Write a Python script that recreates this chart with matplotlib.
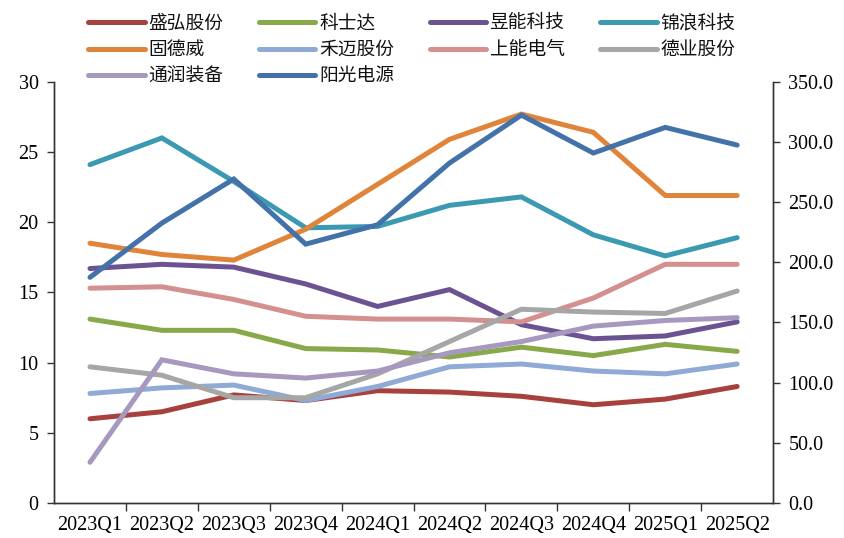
import numpy as np
import matplotlib
matplotlib.use("Agg")
import matplotlib.pyplot as plt

plt.rcParams['font.family'] = ['Liberation Serif', 'Noto Sans CJK SC', 'DejaVu Sans']

quarters = ['2023Q1', '2023Q2', '2023Q3', '2023Q4', '2024Q1',
            '2024Q2', '2024Q3', '2024Q4', '2025Q1', '2025Q2']

# left axis series
shenghong = [6.0, 6.5, 7.7, 7.3, 8.0, 7.9, 7.6, 7.0, 7.4, 8.3]
kestar = [13.1, 12.3, 12.3, 11.0, 10.9, 10.4, 11.1, 10.5, 11.3, 10.8]
yuneng = [16.7, 17.0, 16.8, 15.6, 14.0, 15.2, 12.7, 11.7, 11.9, 12.9]
jinlang = [24.1, 26.0, 22.9, 19.6, 19.7, 21.2, 21.8, 19.1, 17.6, 18.9]
goodwe = [18.5, 17.7, 17.3, 19.5, 22.7, 25.9, 27.7, 26.4, 21.9, 21.9]
hoymiles = [7.8, 8.2, 8.4, 7.3, 8.3, 9.7, 9.9, 9.4, 9.2, 9.9]
sineng = [15.3, 15.4, 14.5, 13.3, 13.1, 13.1, 12.9, 14.6, 17.0, 17.0]
deye = [9.7, 9.1, 7.5, 7.5, 9.2, 11.5, 13.8, 13.6, 13.5, 15.1]
tongrun = [2.9, 10.2, 9.2, 8.9, 9.4, 10.7, 11.5, 12.6, 13.0, 13.2]
# right axis series
sungrow = [187.5, 232.6, 269.2, 215.1, 231.2, 282.5, 322.3, 290.8, 312.1, 297.4]

left_series = [
    ('盛弘股份', shenghong, '#A8413E'),
    ('科士达', kestar, '#87A94A'),
    ('昱能科技', yuneng, '#6B5292'),
    ('锦浪科技', jinlang, '#3B9AB2'),
    ('固德威', goodwe, '#E0843A'),
    ('禾迈股份', hoymiles, '#8FAAD5'),
    ('上能电气', sineng, '#D4908F'),
    ('德业股份', deye, '#A6A6A6'),
    ('通润装备', tongrun, '#A798BF'),
]

fig = plt.figure(figsize=(8.44, 5.38), dpi=100)
ax = fig.add_axes([0.064, 0.065, 0.852, 0.783])
ax2 = ax.twinx()

x = np.arange(len(quarters))
lw = 3.6
handles = []
for name, vals, color in left_series:
    h, = ax.plot(x, vals, color=color, lw=lw, solid_capstyle='round',
                 solid_joinstyle='miter', label=name)
    handles.append(h)
h, = ax2.plot(x, sungrow, color='#4371A9', lw=lw, solid_capstyle='round',
              solid_joinstyle='miter', label='阳光电源')
handles.append(h)

ax.set_xlim(-0.5, len(quarters) - 0.5)
ax.set_ylim(0, 30)
ax2.set_ylim(0, 350)
ax.set_yticks(range(0, 31, 5))
ax2.set_yticks(range(0, 351, 50))
ax2.set_yticklabels([f'{v:.1f}' for v in range(0, 351, 50)])

ax.set_xticks(np.arange(0.5, len(quarters) - 0.5, 1))
ax.set_xticklabels([])
ax.set_xticks(x, minor=True)
ax.set_xticklabels(quarters, minor=True)
ax.tick_params(axis='x', which='major', direction='out', length=6, width=1, color='#333333')
ax.tick_params(axis='x', which='minor', length=0, pad=9, labelsize=14.5)
ax.tick_params(axis='y', direction='out', length=5, width=1, labelsize=14.5, color='#333333', pad=6)
ax2.tick_params(axis='y', direction='out', length=5, width=1, labelsize=14.5, color='#333333', pad=6)

for a in (ax, ax2):
    a.spines['top'].set_visible(False)
    for s in ('left', 'right', 'bottom'):
        a.spines[s].set_color('#333333')
        a.spines[s].set_linewidth(1)

# legend fills column by column, so reorder to read row by row
order = [0, 4, 8, 1, 5, 9, 2, 6, 3, 7]
lh = [handles[i] for i in order]
leg = fig.legend(handles=lh, labels=[hh.get_label() for hh in lh],
                 loc='upper left', bbox_to_anchor=(79 / 844, 1 - 3 / 538), ncol=4,
                 frameon=False, borderpad=0, handlelength=3.0, handleheight=0.6,
                 columnspacing=1.9, handletextpad=0.2, labelspacing=0.3,
                 prop={'family': ['Noto Sans CJK SC'], 'size': 13.5})
for t in leg.get_texts():
    t.set_color('#111111')

fig.savefig('out.png', dpi=100)
